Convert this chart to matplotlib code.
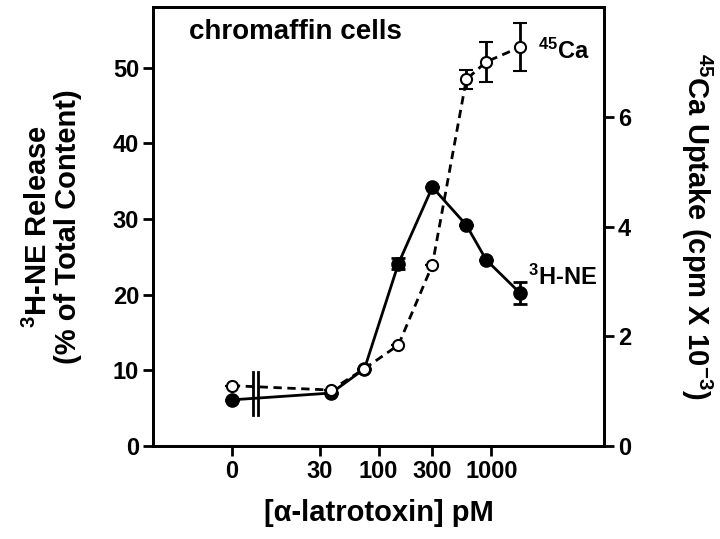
import matplotlib.pyplot as plt

plt.rcParams['font.family'] = ['Liberation Sans', 'DejaVu Sans']
plt.rcParams['font.weight'] = 'bold'
plt.rcParams['mathtext.fontset'] = 'custom'
plt.rcParams['mathtext.rm'] = 'Liberation Sans:bold'
plt.rcParams['mathtext.bf'] = 'Liberation Sans:bold'
plt.rcParams['mathtext.it'] = 'Liberation Sans:bold'

# toxin dose in pM; the "0" dose is drawn at 5 on the log axis
dose = [5, 38, 75, 150, 300, 600, 900, 1800]
tick_pos = [5, 30, 100, 300, 1000]
tick_lab = ['0', '30', '100', '300', '1000']

ne_release = [6.1, 7.0, 10.2, 24.1, 34.2, 29.2, 24.6, 20.2]
ne_err = [0, 0, 0, 0.7, 0, 0, 0, 1.5]

ca_uptake = [1.10, 1.02, 1.41, 1.84, 3.30, 6.68, 7.00, 7.27]
ca_err = [0, 0, 0, 0, 0, 0.17, 0.37, 0.44]

fig = plt.figure(figsize=(7.2, 5.39), dpi=100)
ax = fig.add_axes([0.2125, 0.1725, 0.6265, 0.8145])
ax2 = ax.twinx()

ax.errorbar(dose, ne_release, yerr=ne_err, color='black', lw=2, marker='o',
            ms=9.5, mfc='black', mec='black', capsize=5, capthick=2, elinewidth=2, zorder=3)
ax2.errorbar(dose, ca_uptake, yerr=ca_err, color='black', lw=2, ls='--', marker='o',
             ms=8, mfc='white', mec='black', mew=1.5, capsize=5, capthick=2,
             elinewidth=2, dashes=(3, 2), zorder=3)

ax.set_xscale('log')
ax.set_xlim(1, 10000)
ax.set_ylim(0, 58)
ax2.set_ylim(0, 8)
ax.set_xticks(tick_pos)
ax.set_xticklabels(tick_lab)
ax.minorticks_off()
ax.set_yticks([0, 10, 20, 30, 40, 50])
ax2.set_yticks([0, 2, 4, 6])

for a in (ax, ax2):
    for s in a.spines.values():
        s.set_linewidth(2)
    a.tick_params(width=2, length=7, labelsize=17, pad=3)

# axis break marks on the line between 0 and 30
for xb in (7.65, 8.45):
    ax.plot([xb, xb], [4.1, 9.8], color='black', lw=2, zorder=4)

ax.text(2.1, 53.8, 'chromaffin cells', fontsize=20, fontweight='bold')
ax2.text(2600, 7.2, '$^{45}$Ca', fontsize=17, fontweight='bold', va='center')
ax.text(2100, 22.3, '$^{3}$H-NE', fontsize=17, fontweight='bold', va='center')

ax.set_xlabel('[α-latrotoxin] pM', fontsize=21, fontweight='bold')
ax.xaxis.set_label_coords(0.5, -0.12)
ax.set_ylabel('$^{3}$H-NE Release\n(% of Total Content)', fontsize=21,
              fontweight='bold', linespacing=1.05)
ax.yaxis.set_label_coords(-0.157, 0.5)
ax2.set_ylabel('$^{45}$Ca Uptake (cpm X 10$^{-3}$)', fontsize=21,
               fontweight='bold', rotation=270, va='bottom')
ax2.yaxis.set_label_coords(1.165, 0.5)

fig.savefig('out.png', dpi=100)
